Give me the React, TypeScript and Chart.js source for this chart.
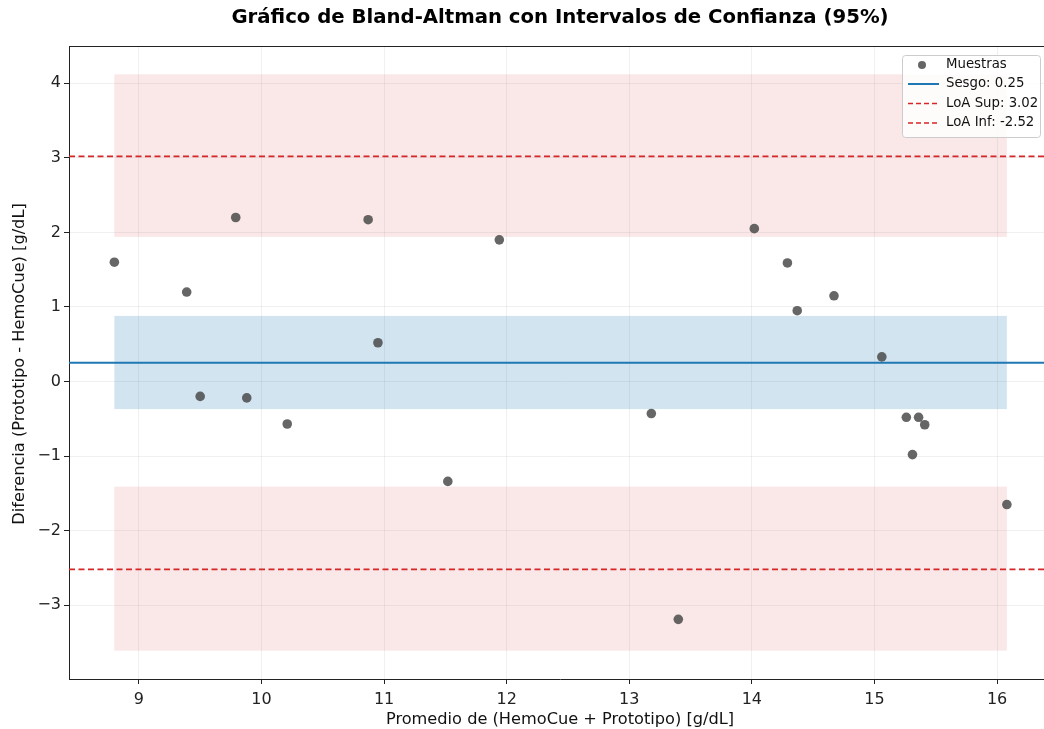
import { useEffect, useRef } from "react";
import { Chart, registerables } from "chart.js";

Chart.register(...registerables);

// Bland-Altman data: average of both methods vs. their difference (g/dL)
const meanValues = [
  8.8, 9.39, 9.5, 9.79, 9.88, 10.21, 10.87, 10.95, 11.52, 11.94, 13.18,
  13.4, 14.02, 14.29, 14.37, 14.67, 15.06, 15.26, 15.36, 15.41, 15.31, 16.08,
];
const diffValues = [
  1.6, 1.2, -0.2, 2.2, -0.22, -0.57, 2.17, 0.52, -1.34, 1.9, -0.43,
  -3.19, 2.05, 1.59, 0.95, 1.15, 0.33, -0.48, -0.48, -0.58, -0.98, -1.65,
];

const bias = 0.25;
const loaUpper = 3.02;
const loaLower = -2.52;

// 95% confidence intervals for the bias and both limits of agreement
const biasCI = [-0.37, 0.88];
const loaUpperCI = [1.94, 4.12];
const loaLowerCI = [-3.61, -1.41];

const xTickValues = [9, 10, 11, 12, 13, 14, 15, 16];
const yTickValues = [-3, -2, -1, 0, 1, 2, 3, 4];
const xRange = [8.43, 16.44];
const yRange = [-3.99, 4.5];

const legendLabels = [
  "Muestras",
  `Sesgo: ${bias.toFixed(2)}`,
  `LoA Sup: ${loaUpper.toFixed(2)}`,
  `LoA Inf: ${loaLower.toFixed(2)}`,
];

const title = "Gráfico de Bland-Altman con Intervalos de Confianza (95%)";
const xTitle = "Promedio de (HemoCue + Prototipo) [g/dL]";
const yTitle = "Diferencia (Prototipo - HemoCue) [g/dL]";

const W = 1060;
const H = 729;
const FONT = "'DejaVu Sans', sans-serif";
const POINT_COLOR = "rgba(75,75,75,0.85)";
const BLUE = "#1f77b4";
const RED = "#d62728";

const fmt = (v: number) => (v < 0 ? "\u2212" + Math.abs(v) : String(v));

const bandsPlugin = {
  id: "ciBands",
  beforeDatasetsDraw(chart: any) {
    const { ctx, scales } = chart;
    const xs = scales.x;
    const ys = scales.y;
    const x0 = xs.getPixelForValue(Math.min(...meanValues));
    const x1 = xs.getPixelForValue(Math.max(...meanValues));
    const band = (r: number[], color: string) => {
      const yA = ys.getPixelForValue(r[1]);
      const yB = ys.getPixelForValue(r[0]);
      ctx.fillStyle = color;
      ctx.fillRect(x0, yA, x1 - x0, yB - yA);
    };
    ctx.save();
    band(loaUpperCI, "rgba(214,39,40,0.11)");
    band(loaLowerCI, "rgba(214,39,40,0.11)");
    band(biasCI, "rgba(31,119,180,0.2)");
    ctx.restore();
  },
};

const decorPlugin = {
  id: "decor",
  afterDraw(chart: any) {
    const { ctx, chartArea } = chart;
    const cx = (chartArea.left + chartArea.right) / 2;
    ctx.save();
    // top and right spines
    ctx.strokeStyle = "#222";
    ctx.lineWidth = 1;
    ctx.beginPath();
    ctx.moveTo(chartArea.left, chartArea.top + 0.5);
    ctx.lineTo(chartArea.right, chartArea.top + 0.5);
    ctx.moveTo(chartArea.right - 0.5, chartArea.top);
    ctx.lineTo(chartArea.right - 0.5, chartArea.bottom);
    ctx.stroke();

    // title
    ctx.fillStyle = "#000";
    ctx.textAlign = "center";
    ctx.textBaseline = "middle";
    ctx.font = `bold 19.7px ${FONT}`;
    ctx.fillText(title, cx, 18);

    // axis titles
    ctx.font = `16.2px ${FONT}`;
    ctx.fillStyle = "#111";
    ctx.fillText(xTitle, cx, 720);
    ctx.save();
    ctx.translate(20, 364);
    ctx.rotate(-Math.PI / 2);
    ctx.fillText(yTitle, 0, 0);
    ctx.restore();

    // legend
    const lx = 902;
    const ly = 55;
    const lw = 138;
    const lh = 82;
    ctx.fillStyle = "rgba(255,255,255,0.85)";
    ctx.strokeStyle = "#cccccc";
    ctx.lineWidth = 1;
    ctx.beginPath();
    ctx.roundRect(lx + 0.5, ly + 0.5, lw, lh, 3);
    ctx.fill();
    ctx.stroke();
    const rowY = [65, 84, 103.5, 123];
    ctx.font = `13.3px ${FONT}`;
    ctx.textAlign = "left";
    ctx.textBaseline = "middle";
    rowY.forEach((y, i) => {
      if (i === 0) {
        ctx.fillStyle = POINT_COLOR;
        ctx.beginPath();
        ctx.arc(922, y, 4, 0, Math.PI * 2);
        ctx.fill();
      } else {
        ctx.strokeStyle = i === 1 ? BLUE : RED;
        ctx.lineWidth = i === 1 ? 2 : 1.5;
        ctx.setLineDash(i === 1 ? [] : [5, 3]);
        ctx.beginPath();
        ctx.moveTo(908, y);
        ctx.lineTo(939, y);
        ctx.stroke();
        ctx.setLineDash([]);
      }
      ctx.fillStyle = "#111";
      ctx.fillText(legendLabels[i], 946, y);
    });
    ctx.restore();
  },
};

export default function App() {
  const ref = useRef<HTMLCanvasElement | null>(null);

  useEffect(() => {
    if (!ref.current) return;
    const hline = (v: number, color: string, width: number, dash: number[]) => ({
      type: "line" as const,
      data: [
        { x: xRange[0], y: v },
        { x: xRange[1], y: v },
      ],
      borderColor: color,
      borderWidth: width,
      borderDash: dash,
      pointRadius: 0,
      fill: false,
      order: 2,
    });

    const chart = new Chart(ref.current, {
      type: "scatter",
      data: {
        datasets: [
          {
            type: "scatter",
            label: legendLabels[0],
            data: meanValues.map((m, i) => ({ x: m, y: diffValues[i] })),
            backgroundColor: POINT_COLOR,
            borderWidth: 0,
            pointRadius: 4.8,
            order: 1,
          },
          hline(bias, BLUE, 2, []),
          hline(loaUpper, RED, 1.6, [6, 3.5]),
          hline(loaLower, RED, 1.6, [6, 3.5]),
        ] as any,
      },
      options: {
        animation: false,
        responsive: false,
        events: [],
        layout: { padding: { top: 46, right: W - 1051, left: 0, bottom: 0 } },
        plugins: {
          legend: { display: false },
          title: { display: false },
          tooltip: { enabled: false },
        },
        scales: {
          x: {
            type: "linear",
            min: xRange[0],
            max: xRange[1],
            afterBuildTicks: (s: any) => {
              s.ticks = xTickValues.map((v) => ({ value: v }));
            },
            afterFit: (s: any) => {
              s.height = 50;
            },
            grid: {
              color: "rgba(0,0,0,0.06)",
              tickColor: "#222",
              tickLength: 5,
              lineWidth: 1,
            },
            border: { color: "#222", width: 1 },
            ticks: {
              color: "#222",
              font: { family: FONT, size: 16 },
              padding: 6,
              maxRotation: 0,
              autoSkip: false,
              callback: (v: any) => fmt(Number(v)),
            },
          },
          y: {
            type: "linear",
            min: yRange[0],
            max: yRange[1],
            afterBuildTicks: (s: any) => {
              s.ticks = yTickValues.map((v) => ({ value: v }));
            },
            afterFit: (s: any) => {
              s.width = 69;
            },
            grid: {
              color: "rgba(0,0,0,0.06)",
              tickColor: "#222",
              tickLength: 5,
              lineWidth: 1,
            },
            border: { color: "#222", width: 1 },
            ticks: {
              color: "#222",
              font: { family: FONT, size: 16 },
              padding: 3,
              autoSkip: false,
              callback: (v: any) => fmt(Number(v)),
            },
          },
        },
      },
      plugins: [bandsPlugin, decorPlugin],
    });
    return () => chart.destroy();
  }, []);

  return (
    <div
      style={{
        position: "absolute",
        left: 0,
        top: 0,
        width: 1044,
        height: 729,
        overflow: "hidden",
        background: "#fff",
      }}
    >
      <canvas ref={ref} width={W} height={H} style={{ display: "block", width: W, height: H }} />
    </div>
  );
}
